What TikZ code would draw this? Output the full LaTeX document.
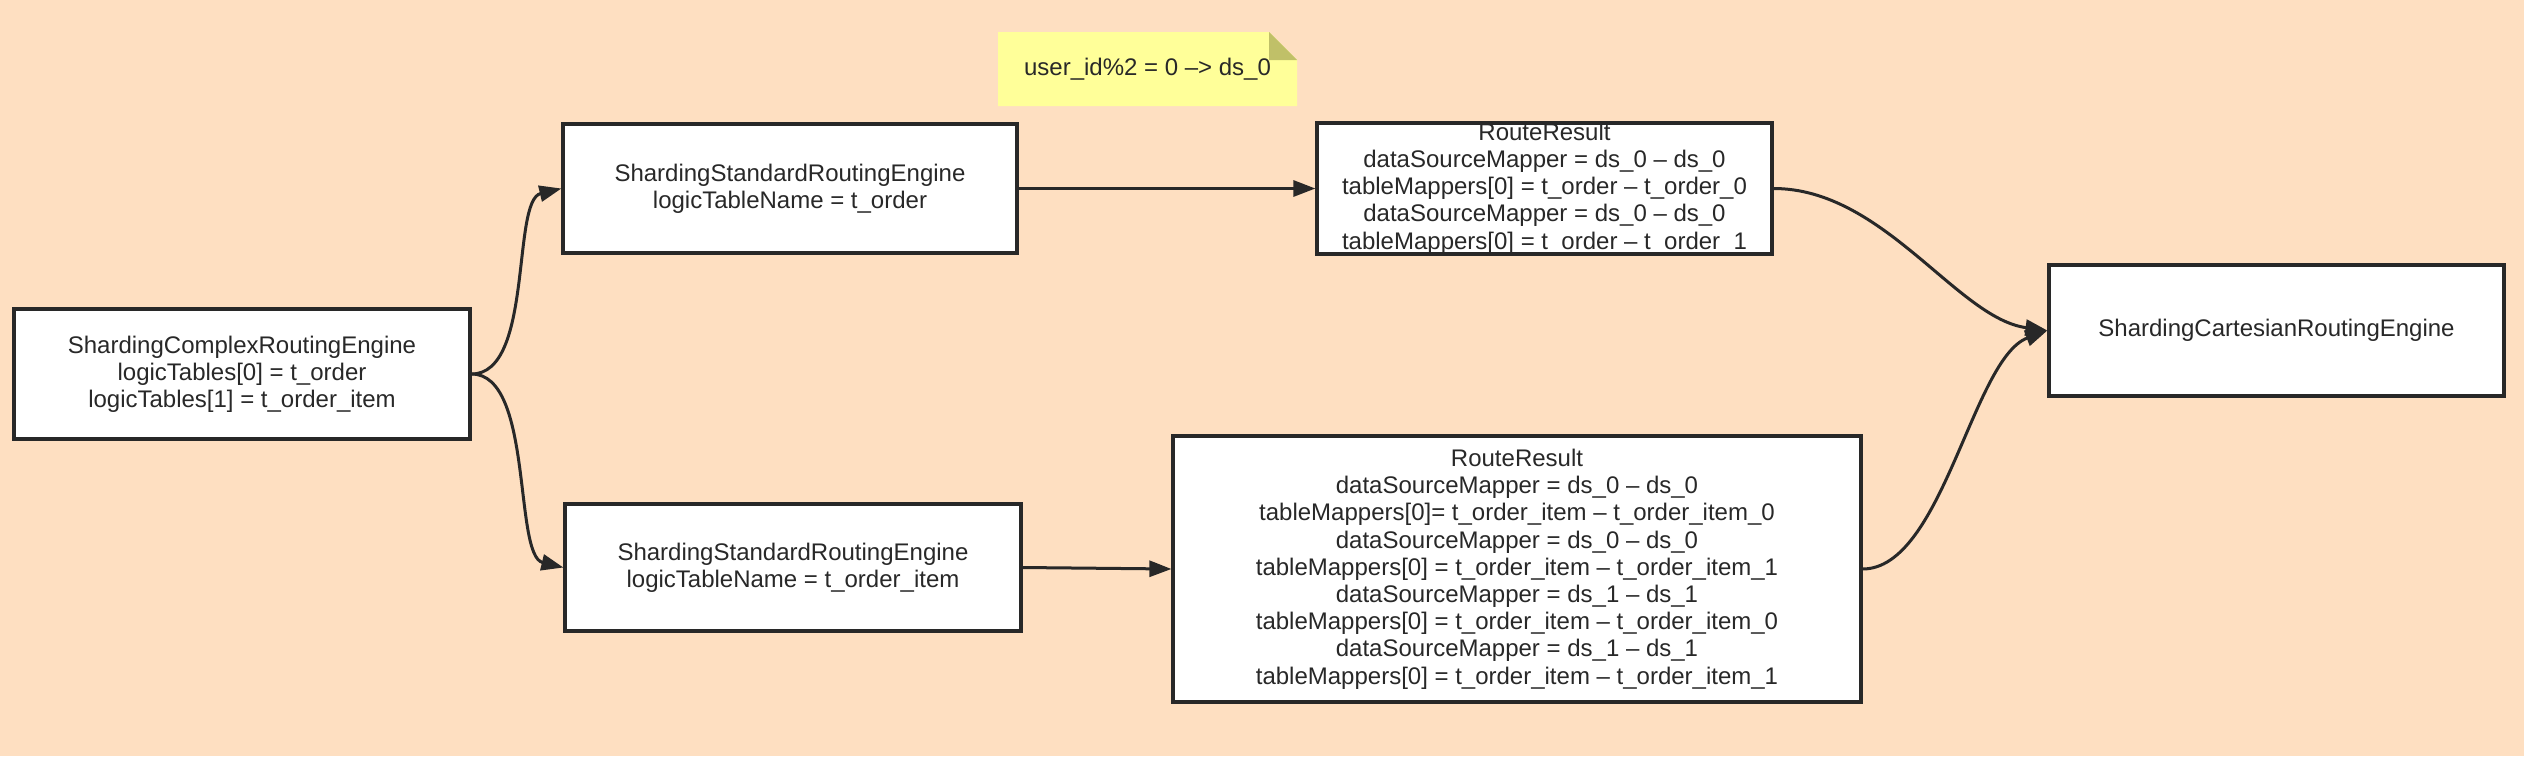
\documentclass[tikz,border=0pt]{standalone}
\usepackage{fontspec}
\setmainfont{Liberation Sans}
\usetikzlibrary{arrows.meta}
\definecolor{peach}{RGB}{254,223,193}
\definecolor{ink}{RGB}{40,40,40}
\definecolor{notebg}{RGB}{255,255,153}
\definecolor{notefold}{RGB}{192,192,104}
\begin{document}
\begin{tikzpicture}[x=0.5pt,y=-0.5pt,
  engine/.style={draw=ink, text=ink, line width=1.6pt, fill=white, align=center, inner sep=0pt,
    font=\fontsize{12}{13.6}\selectfont},
  flow/.style={draw=ink, line width=1.5pt, -{Triangle[length=11pt,width=8pt]}}]
  \fill[peach] (0,0) rectangle (2524,756); % background
  \useasboundingbox (0,0) rectangle (2524,756);

  % routing engines
  \node[engine, minimum width=228pt, minimum height=65pt] (complex) at (242,374)
    {ShardingComplexRoutingEngine\\logicTables[0] = t\_order\\logicTables[1] = t\_order\_item};
  \node[engine, minimum width=227pt, minimum height=64.5pt] (std1) at (790,188.5)
    {ShardingStandardRoutingEngine\\logicTableName = t\_order};
  \node[engine, minimum width=228pt, minimum height=63.5pt] (std2) at (793,567.5)
    {ShardingStandardRoutingEngine\\logicTableName = t\_order\_item};
  \node[engine, minimum width=227.5pt, minimum height=65.5pt] (cart) at (2276.5,330.5)
    {ShardingCartesianRoutingEngine};

  % route results
  \node[engine, minimum width=227.5pt, minimum height=64.5pt] (rr1) at (1544.5,188.5)
    {RouteResult\\dataSourceMapper = ds\_0 -- ds\_0\\tableMappers[0] = t\_order -- t\_order\_0\\
     dataSourceMapper = ds\_0 -- ds\_0\\tableMappers[0] = t\_order -- t\_order\_1};
  \node[engine, minimum width=344pt, minimum height=133pt] (rr2) at (1517,569)
    {RouteResult\\dataSourceMapper = ds\_0 -- ds\_0\\tableMappers[0]= t\_order\_item -- t\_order\_item\_0\\
     dataSourceMapper = ds\_0 -- ds\_0\\tableMappers[0] = t\_order\_item -- t\_order\_item\_1\\
     dataSourceMapper = ds\_1 -- ds\_1\\tableMappers[0] = t\_order\_item -- t\_order\_item\_0\\
     dataSourceMapper = ds\_1 -- ds\_1\\tableMappers[0] = t\_order\_item -- t\_order\_item\_1};

  % note
  \fill[notebg] (998,32) -- (1269,32) -- (1297,60) -- (1297,106) -- (998,106) -- cycle;
  \fill[notefold] (1269,32) -- (1297,60) -- (1269,60) -- cycle;
  \node[text=ink, font=\fontsize{12}{13.6}\selectfont] (note) at (1147.5,69) {user\_id\%2 = 0 --> ds\_0};

  \draw[flow] (complex.east) .. controls +(62,0) and +(-50,12) .. (std1.west);
  \draw[flow] (complex.east) .. controls +(62,0) and +(-50,-12) .. (std2.west);
  \draw[flow] (std1.east) -- (rr1.west);
  \draw[flow] (std2.east) -- (rr2.west);
  \draw[flow] (rr1.east) .. controls +(110,0) and +(-90,-12) .. (cart.west);
  \draw[flow] (rr2.east) .. controls +(80,0) and +(-75,28) .. (cart.west);
\end{tikzpicture}
\end{document}
